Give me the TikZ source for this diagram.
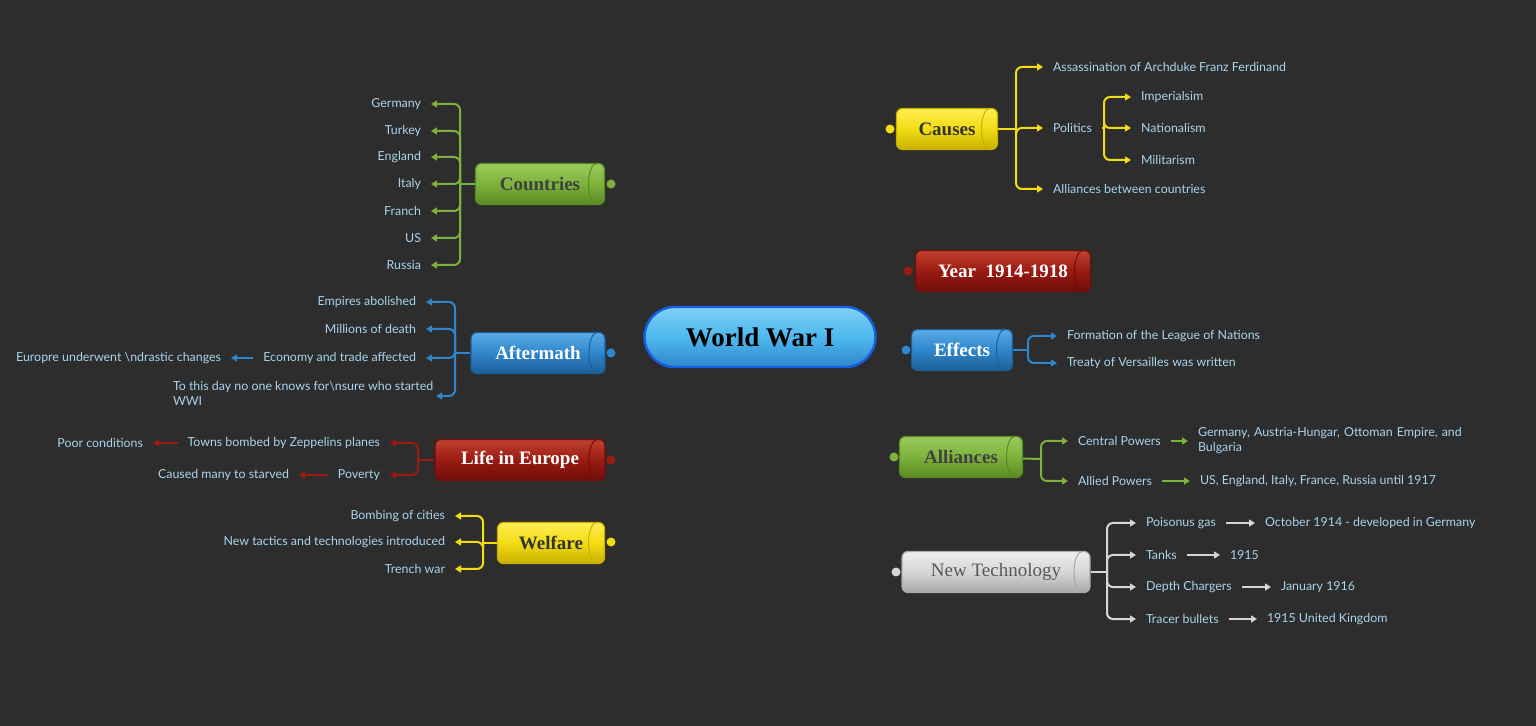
\documentclass[tikz,border=0pt]{standalone}
\usepackage{fontspec}
\setmainfont{Liberation Serif}
\newfontfamily\leaffont{Lato}
\usetikzlibrary{arrows.meta,backgrounds}
\definecolor{bg}{HTML}{2D2D2D}
\definecolor{leafc}{HTML}{A9D4EE}
\definecolor{cY}{HTML}{F2DC12}\definecolor{cYd}{HTML}{C9B000}
\definecolor{cR}{HTML}{9A1B12}\definecolor{cRd}{HTML}{6E0E08}\definecolor{cRl}{HTML}{C04030}
\definecolor{cB}{HTML}{2F86CC}\definecolor{cBd}{HTML}{1C5E98}\definecolor{cBl}{HTML}{5AAAE6}
\definecolor{cG}{HTML}{7CB23C}\definecolor{cGd}{HTML}{5A8A22}\definecolor{cGl}{HTML}{9CCB5C}
\definecolor{cW}{HTML}{D6D6D6}\definecolor{cWd}{HTML}{A8A8A8}\definecolor{cWl}{HTML}{EEEEEE}
\definecolor{cYl}{HTML}{FFEE55}
\definecolor{cBdd}{HTML}{1460E0}
\definecolor{cCen}{HTML}{4DB8EE}
\definecolor{cCenl}{HTML}{7FD0F8}
\tikzset{
 br/.style n args={3}{draw=#2,line width=0.6pt,rounded corners=3pt,top color=#3,bottom color=#2,middle color=#1,
   minimum height=20.5pt,inner xsep=6pt,font=\bfseries\fontsize{9.5}{10}\selectfont,
   path picture={\draw[#2,line width=0.5pt] ([xshift=-4pt]path picture bounding box.north east) arc[start angle=90,end angle=270,x radius=4pt,y radius=10.25pt];}},
 leafR/.style={anchor=west,inner sep=0pt,outer sep=5pt,text=leafc,font=\leaffont\fontsize{6.2}{7.6}\selectfont,align=left},
 leafL/.style={leafR,anchor=east},
 con/.style={line width=1.3pt},
 dot/.style={circle,fill,inner sep=0pt,minimum size=4.5pt},
 tk/.style={line width=1pt,rounded corners=3pt,-{Triangle[width=3.5pt,length=3pt]}},
 tks/.style={line width=0.8pt,-{Triangle[width=3.5pt,length=3pt]}}
}
\begin{document}
\begin{tikzpicture}[x=0.5pt,y=-0.5pt]
\fill[bg] (0,0) rectangle (1536,726);
\useasboundingbox (0,0) rectangle (1536,726);
% central
\node[draw=cBdd,line width=1.2pt,rounded corners=15pt,top color=cCenl,bottom color=cB,middle color=cCen,
  minimum width=115.5pt,minimum height=30pt,font=\bfseries\fontsize{13.5}{14}\selectfont,text=black] (ww) at (760,337) {World War I};
% branches
\node[br={cY}{cYd}{cYl},text=black!80,minimum width=50.5pt] (causes) at (947,129) {Causes};
\node[br={cR}{cRd}{cRl},text=white,minimum width=87.5pt] (year) at (1003,271) {Year\ \ 1914-1918};
\node[br={cB}{cBd}{cBl},text=white,minimum width=50.5pt] (effects) at (962,350) {Effects};
\node[br={cG}{cGd}{cGl},text=black!75,minimum width=61.5pt] (alli) at (961,457) {Alliances};
\node[br={cW}{cWd}{cWl},text=black!65,minimum width=94pt,font=\fontsize{9.5}{10}\selectfont] (tech) at (996,572) {New Technology};
\node[br={cG}{cGd}{cGl},text=black!75,minimum width=64.5pt] (countries) at (540,184) {Countries};
\node[br={cB}{cBd}{cBl},text=white,minimum width=67pt] (after) at (538,353) {Aftermath};
\node[br={cR}{cRd}{cRl},text=white,minimum width=85pt] (life) at (520,460) {Life in Europe};
\node[br={cY}{cYd}{cYl},text=black!80,minimum width=53.5pt] (welf) at (551,543) {Welfare};
% dots
\node[dot,cY] (dc) at (890,129) {}; \node[dot,cR] (dy) at (908,271) {};
\node[dot,cB] (de) at (906,350) {}; \node[dot,cG] (da) at (894,457) {};
\node[dot,cW] (dt) at (896,572) {}; \node[dot,cG] (dco) at (611,184) {};
\node[dot,cB] (daf) at (611,353) {}; \node[dot,cR] (dl) at (611,460) {};
\node[dot,cY] (dw) at (611,542) {};
\begin{scope}[on background layer]
\fill[bg] (0,0) rectangle (1536,726);
\draw[con,cY] (ww) -- (dc); \draw[con,cR] (ww) -- (dy);
\draw[con,cB] (ww) -- (de); \draw[con,cG] (ww) -- (da);
\draw[con,cW] (ww) -- (dt); \draw[con,cG] (ww) -- (dco);
\draw[con,cB] (ww) -- (daf); \draw[con,cR] (ww) -- (dl);
\draw[con,cY] (ww) -- (dw);
\draw[con,cY] (dc) -- (causes); \draw[con,cR] (dy) -- (year); \draw[con,cB] (de) -- (effects);
\draw[con,cG] (da) -- (alli); \draw[con,cW] (dt) -- (tech); \draw[con,cG] (dco) -- (countries);
\draw[con,cB] (daf) -- (after); \draw[con,cR] (dl) -- (life); \draw[con,cY] (dw) -- (welf);
\end{scope}
% Causes leaves
\node[leafR] (c1) at (1043,67) {Assassination of Archduke Franz Ferdinand};
\node[leafR] (c2) at (1043,128) {Politics};
\node[leafR] (c3) at (1043,189) {Alliances between countries};
\node[leafR] (p1) at (1131,97) {Imperialsim};
\node[leafR] (p2) at (1131,128) {Nationalism};
\node[leafR] (p3) at (1131,160) {Militarism};
\coordinate (jc) at (1016,129); \coordinate (jp) at (1104,128);
\draw[cY,line width=1pt] (causes) -- (jc);
\foreach \n in {c1,c2,c3} \draw[cY,tk] (jc) |- (\n.west);
\draw[cY,line width=1pt] (c2) -- (jp);
\foreach \n in {p1,p2,p3} \draw[cY,tk] (jp) |- (\n.west);
% Effects
\node[leafR] (e1) at (1057,336) {Formation of the League of Nations};
\node[leafR] (e2) at (1057,363) {Treaty of Versailles was written};
\coordinate (je) at (1028,350);
\draw[cB,line width=1pt] (effects) -- (je);
\foreach \n in {e1,e2} \draw[cB,tk] (je) |- (\n.west);
% Alliances
\node[leafR] (a1) at (1068,441) {Central Powers};
\node[leafR] (a2) at (1068,481) {Allied Powers};
\node[leafR,text width=140pt,anchor=north west,outer sep=0pt] (a1b) at (1198,427) {Germany, Austria-Hungar, Ottoman Empire, and\\Bulgaria};
\node[leafR] (a2b) at (1190,481) {US, England, Italy, France, Russia until 1917};
\coordinate (ja) at (1041,459);
\coordinate (a1e) at (1188,441);
\draw[cG,line width=1pt] (alli) -- (ja);
\foreach \n in {a1,a2} \draw[cG,tk] (ja) |- (\n.west);
\draw[cG,tks] (a1.east) -- (a1e);
\draw[cG,tks] (a2) -- (a2b);
% Tech
\node[leafR] (t1) at (1136,523) {Poisonus gas};
\node[leafR] (t2) at (1136,555) {Tanks};
\node[leafR] (t3) at (1136,587) {Depth Chargers};
\node[leafR] (t4) at (1136,619) {Tracer bullets};
\node[leafR] (t1b) at (1255,523) {October 1914 - developed in Germany};
\node[leafR] (t2b) at (1220,555) {1915};
\node[leafR] (t3b) at (1271,587) {January 1916};
\node[leafR] (t4b) at (1257,619) {1915 United Kingdom};
\coordinate (jt) at (1107,572);
\draw[cW,line width=1pt] (tech) -- (jt);
\foreach \n in {t1,t2,t3,t4} {\draw[cW,tk] (jt) |- (\n.west); \draw[cW,tks] (\n) -- (\n b);}
% Countries
\foreach \t/\y [count=\i] in {Germany/104,Turkey/131,England/157,Italy/184,Franch/211,US/238,Russia/265}
  \node[leafL] (k\i) at (431,\y) {\t};
\coordinate (jk) at (460,184);
\draw[cG,line width=1pt] (countries) -- (jk);
\foreach \i in {1,...,7} \draw[cG,tk] (jk) |- (k\i.east);
% Aftermath
\node[leafL] (f1) at (426,302) {Empires abolished};
\node[leafL] (f2) at (426,329) {Millions of death};
\node[leafL] (f3) at (426,358) {Economy and trade affected};
\node[leafR,anchor=north west,outer sep=0pt] (f4) at (173,381) {To this day no one knows for\textbackslash nsure who started\\WWI};
\coordinate (f4e) at (436,396);
\node[leafL] (f3b) at (231,358) {Europre underwent \textbackslash ndrastic changes};
\coordinate (jf) at (455,353);
\draw[cB,line width=1pt] (after) -- (jf);
\foreach \n in {f1,f2,f3} \draw[cB,tk] (jf) |- (\n.east);
\draw[cB,tk] (jf) |- (f4e);
\draw[cB,tks] (f3) -- (f3b);
% Life in Europe
\node[leafL] (l1) at (390,443) {Towns bombed by Zeppelins planes};
\node[leafL] (l2) at (390,475) {Poverty};
\node[leafL] (l1b) at (153,443) {Poor conditions};
\node[leafL] (l2b) at (299,475) {Caused many to starved};
\coordinate (jl) at (418,460);
\draw[cR,line width=1pt] (life) -- (jl);
\foreach \n in {l1,l2} {\draw[cR,tk] (jl) |- (\n.east); \draw[cR,tks] (\n) -- (\n b);}
% Welfare
\node[leafL] (w1) at (455,516) {Bombing of cities};
\node[leafL] (w2) at (455,542) {New tactics and technologies introduced};
\node[leafL] (w3) at (455,569) {Trench war};
\coordinate (jw) at (483,543);
\draw[cY,line width=1pt] (welf) -- (jw);
\foreach \n in {w1,w2,w3} \draw[cY,tk] (jw) |- (\n.east);
\end{tikzpicture}
\end{document}
